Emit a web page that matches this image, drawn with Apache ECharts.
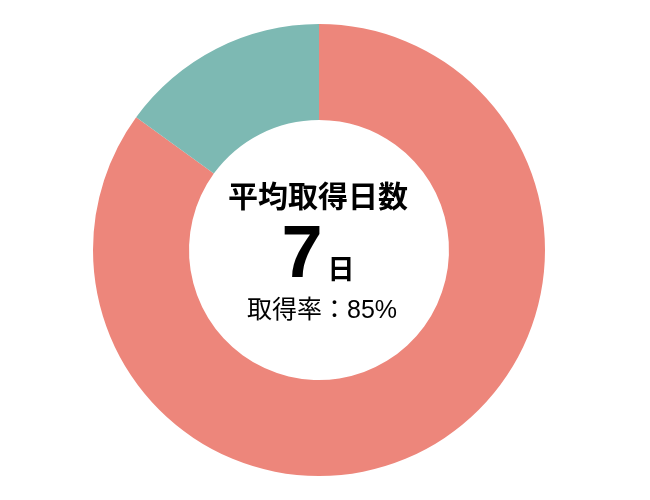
<!DOCTYPE html>
<html>
<head>
<meta charset="utf-8">
<script src="https://cdn.jsdelivr.net/npm/echarts@6/dist/echarts.min.js"></script>
<style>
html,body{margin:0;padding:0;background:#fff;}
#main{width:650px;height:500px;}
</style>
</head>
<body>
<div id="main"></div>
<script>
const categories = ['取得', '未取得'];
const values = [85, 15];
const colors = ['#ED867B', '#7DB9B3'];
const titleText = '平均取得日数';
const daysValue = '7';
const daysUnit = '日';
const rateText = '取得率：85%';

const chart = echarts.init(document.getElementById('main'), null, {renderer: 'canvas'});
chart.setOption({
  animation: false,
  backgroundColor: '#ffffff',
  series: [{
    type: 'pie',
    center: [319, 250],
    radius: [130, 226],
    startAngle: 90,
    clockwise: true,
    label: {show: false},
    labelLine: {show: false},
    emphasis: {disabled: true},
    itemStyle: {borderWidth: 0},
    data: categories.map((c, i) => ({name: c, value: values[i], itemStyle: {color: colors[i]}}))
  }],
  graphic: [
    {type: 'text', x: 318, y: 196, style: {text: titleText, font: 'bold 30px "Noto Sans CJK JP"', fill: '#000', align: 'center', verticalAlign: 'middle'}},
    {type: 'text', x: 302, y: 257, style: {text: daysValue, font: 'bold 74px "Liberation Sans", "Noto Sans CJK JP"', fill: '#000', align: 'center', verticalAlign: 'middle'}},
    {type: 'text', x: 341, y: 269, style: {text: daysUnit, font: 'bold 27px "Noto Sans CJK JP"', fill: '#000', align: 'center', verticalAlign: 'middle'}},
    {type: 'text', x: 322, y: 311, style: {text: rateText, font: '25px "Liberation Sans", "Noto Sans CJK JP"', fill: '#000', align: 'center', verticalAlign: 'middle'}}
  ]
});
</script>
</body>
</html>
